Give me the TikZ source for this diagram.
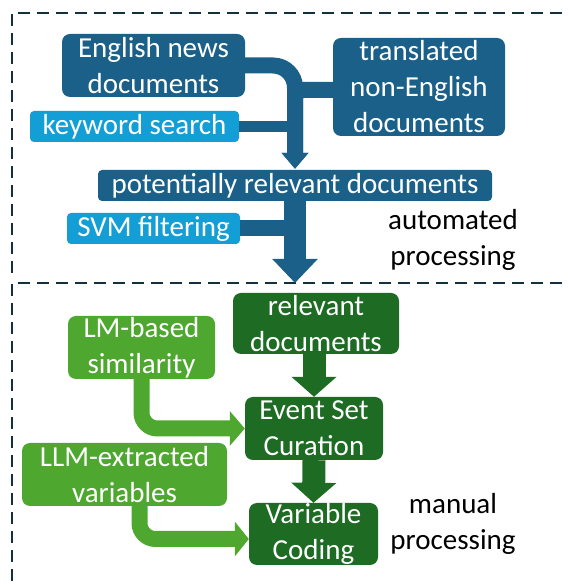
\documentclass[tikz,border=0pt]{standalone}
\usepackage{fontspec}
\setmainfont{Carlito}
\usetikzlibrary{arrows.meta}
\definecolor{dblue}{HTML}{1B6088}
\definecolor{lblue}{HTML}{139FD6}
\definecolor{dgreen}{HTML}{1E6B24}
\definecolor{lgreen}{HTML}{4EA72E}
\definecolor{frame}{HTML}{12303F}
\tikzset{
  box/.style={fill=#1, text=white, inner sep=0pt, align=center, rounded corners=8pt,
    font=\fontsize{29}{36}\selectfont},
  flat/.style={box=#1, rounded corners=4pt},
  band/.style={draw=#1, line width=16pt},
  frm/.style={draw=frame, line width=2pt, dash pattern=on 12pt off 7pt},
  lbl/.style={align=center, text=black, inner sep=0pt, font=\fontsize{29}{36}\selectfont},
}
\begin{document}
\begin{tikzpicture}[x=1pt,y=1pt]
\useasboundingbox (0,0) rectangle (567,585);
% frames
\draw[frm] (600,572) -- (12,572) -- (12,308);
\draw[frm] (600,302) -- (12,302) -- (12,-10);
% top nodes
\node[box=dblue, minimum width=183pt, minimum height=63pt] (eng) at (153.5,519.5) {English news\\documents};
\node[box=dblue, minimum width=172pt, minimum height=98pt] (trans) at (419,498) {translated\\non-English\\documents};
\node[flat=lblue, minimum width=209pt, minimum height=31pt] (kw) at (134.5,458.5) {keyword search};
\node[flat=dblue, minimum width=394pt, minimum height=31pt] (pot) at (295,399.5) {potentially relevant documents};
\node[flat=lblue, minimum width=173pt, minimum height=31pt] (svm) at (153.5,356.5) {SVM filtering};
\node[lbl] (auto) at (453,345) {automated\\processing};
\coordinate (tip1) at (pot.north);
\coordinate (tip2) at (295,302);
% top connectors
\draw[band=dblue, line width=11pt, rounded corners=4pt] (kw.east) -- ([xshift=-1pt]kw.east -| tip1);
\draw[band=dblue, rounded corners=22pt, -{Triangle[width=26pt,length=16pt]}] (eng.east) -| ([yshift=1pt]tip1);
\draw[band=dblue, rounded corners=8pt, -{Triangle[width=26pt,length=16pt]}] ([yshift=-3pt]trans.west) -| ([yshift=1pt]tip1);
\draw[band=dblue, line width=16pt] (svm.east) -- (svm.east -| tip2);
\draw[band=dblue, line width=22pt, -{Triangle[width=44pt,length=24pt]}] (pot.south) -- (tip2);
% bottom nodes
\node[box=dgreen, minimum width=166pt, minimum height=61pt] (rel) at (316,261.5) {relevant\\documents};
\node[box=lgreen, minimum width=147pt, minimum height=63pt] (lm) at (141.5,237.5) {LM-based\\similarity};
\node[box=dgreen, minimum width=138pt, minimum height=63pt] (ev) at (314,156.5) {Event Set\\Curation};
\node[box=lgreen, minimum width=205pt, minimum height=63pt] (llm) at (124.5,110.5) {LLM-extracted\\variables};
\node[box=dgreen, minimum width=129pt, minimum height=62pt] (vc) at (313.5,51) {Variable\\Coding};
\node[lbl] (man) at (453,61) {manual\\processing};
% bottom connectors
\draw[band=dgreen, line width=23pt, -{Triangle[width=44pt,length=20pt]}] (rel.south -| ev.north) -- (ev.north);
\draw[band=dgreen, line width=23pt, -{Triangle[width=44pt,length=20pt]}] (ev.south) -- (vc.north);
\draw[band=lgreen, rounded corners=16pt, -{Triangle[width=34pt,length=15pt]}] (lm.south) |- (ev.west);
\draw[band=lgreen, rounded corners=16pt, -{Triangle[width=34pt,length=14pt]}] ([xshift=15pt]llm.south) |- ([yshift=-5pt]vc.west);
\end{tikzpicture}
\end{document}
